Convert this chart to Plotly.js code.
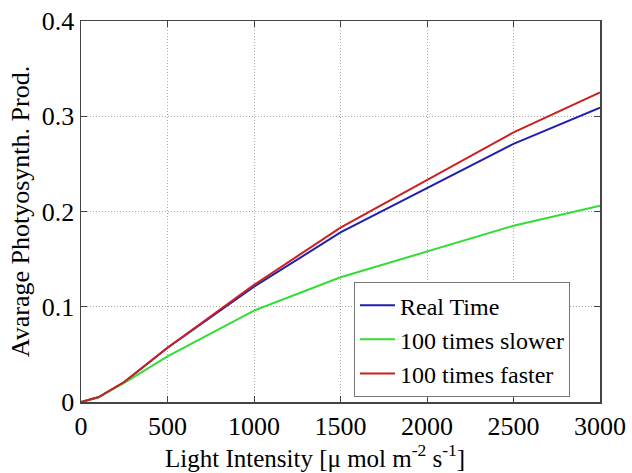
<!DOCTYPE html>
<html>
<head>
<meta charset="utf-8">
<script src="https://cdn.plot.ly/plotly-3.0.1.min.js"></script>
<style>
html,body{margin:0;padding:0;background:#fff;}
#chart{width:632px;height:473px;}
</style>
</head>
<body>
<div id="chart"></div>
<script>
var lightIntensity = [0, 100, 250, 500, 1000, 1500, 2500, 3000];
var realTime = [0, 0.005, 0.021, 0.057, 0.121, 0.178, 0.271, 0.309];
var slower100 = [0, 0.005, 0.020, 0.048, 0.096, 0.131, 0.185, 0.206];
var faster100 = [0, 0.005, 0.021, 0.057, 0.123, 0.183, 0.283, 0.325];
var seriesNames = ["Real Time", "100 times slower", "100 times faster"];
var xTicks = [0, 500, 1000, 1500, 2000, 2500, 3000];
var yTicks = [0, 0.1, 0.2, 0.3, 0.4];
var xTickText = ["0", "500", "1000", "1500", "2000", "2500", "3000"];
var yTickText = ["0", "0.1", "0.2", "0.3", "0.4"];

var font = "Liberation Serif, Times New Roman, serif";
var traces = [
  {x: lightIntensity, y: realTime, name: seriesNames[0], mode: "lines", line: {color: "#1f1fb0", width: 2}},
  {x: lightIntensity, y: slower100, name: seriesNames[1], mode: "lines", line: {color: "#33dd33", width: 2}},
  {x: lightIntensity, y: faster100, name: seriesNames[2], mode: "lines", line: {color: "#cc2020", width: 2}}
];
var axisCommon = {
  showline: true, linecolor: "#444", linewidth: 1.5, mirror: "ticks",
  ticks: "inside", ticklen: 6, tickcolor: "#444",
  showgrid: true, gridcolor: "#aaa", griddash: "1px,2px", gridwidth: 1,
  zeroline: false, tickfont: {family: font, size: 26, color: "#000"}
};
var layout = {
  width: 632, height: 473,
  margin: {l: 81, r: 32, t: 21, b: 71},
  paper_bgcolor: "#fff", plot_bgcolor: "#fff",
  font: {family: font, color: "#000"},
  xaxis: Object.assign({}, axisCommon, {
    range: [0, 3000], tickvals: xTicks, ticktext: xTickText
  }),
  yaxis: Object.assign({}, axisCommon, {
    range: [0, 0.4], tickvals: yTicks, ticktext: yTickText,
    title: {text: "Avarage Photyosynth. Prod.", font: {family: font, size: 26}, standoff: 4}
  }),
  annotations: [{
    text: "Light Intensity [μ mol m<sup>-2</sup> s<sup>-1</sup>]",
    xref: "paper", yref: "paper", x: 0.451, y: 0, xanchor: "center", yanchor: "top",
    yshift: -36, showarrow: false, font: {family: font, size: 25, color: "#000"}
  }],
  showlegend: true,
  legend: {
    x: 0.526, y: 0.013, xanchor: "left", yanchor: "bottom",
    bgcolor: "#fff", bordercolor: "#777", borderwidth: 1,
    font: {family: font, size: 24, color: "#000"},
    tracegroupgap: 0, itemwidth: 35
  }
};
Plotly.newPlot("chart", traces, layout, {displayModeBar: false, staticPlot: true});
</script>
</body>
</html>
